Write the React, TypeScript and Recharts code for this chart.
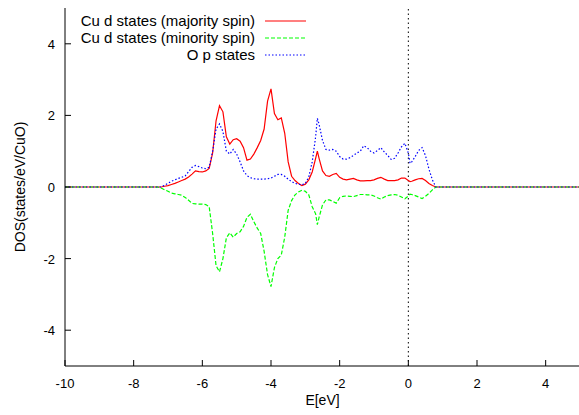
import { LineChart, Line, XAxis, YAxis, ReferenceLine, Legend, Label } from "recharts";

// Energy grid (eV) and DOS values (states/eV/CuO)
const energies = [
  -10, -7.3, -7.2, -7.1, -7.0, -6.9, -6.8, -6.7, -6.6, -6.5, -6.4, -6.3, -6.2, -6.1, -6.0, -5.9, -5.8,
  -5.7, -5.6, -5.5, -5.4, -5.3, -5.2, -5.1, -5.0, -4.9, -4.8, -4.7, -4.6, -4.5, -4.4, -4.3, -4.2, -4.1,
  -4.0, -3.9, -3.8, -3.7, -3.6, -3.5, -3.4, -3.3, -3.2, -3.1, -3.0, -2.9, -2.8, -2.7, -2.65, -2.6, -2.5,
  -2.4, -2.3, -2.2, -2.1, -2.0, -1.9, -1.8, -1.7, -1.6, -1.5, -1.4, -1.3, -1.2, -1.1, -1.0, -0.9, -0.8,
  -0.7, -0.6, -0.5, -0.4, -0.3, -0.2, -0.1, 0.0, 0.05, 0.1, 0.2, 0.3, 0.4, 0.5, 0.6, 0.7, 0.8, 5,
];

const cuMajority = [
  0, 0, 0.0, 0.02, 0.04, 0.07, 0.1, 0.14, 0.18, 0.22, 0.28, 0.36, 0.45, 0.43, 0.42, 0.45, 0.52,
  0.95, 1.85, 2.27, 2.1, 1.4, 1.2, 1.32, 1.35, 1.28, 1.1, 0.75, 0.78, 0.92, 1.1, 1.3, 1.62, 2.4,
  2.74, 2.05, 1.88, 1.93, 1.5, 0.7, 0.3, 0.18, 0.1, 0.04, 0.08, 0.2, 0.42, 0.8, 1.0, 0.8, 0.45,
  0.32, 0.3, 0.35, 0.38, 0.27, 0.22, 0.2, 0.22, 0.24, 0.2, 0.17, 0.17, 0.18, 0.18, 0.2, 0.24, 0.27,
  0.22, 0.18, 0.18, 0.18, 0.2, 0.25, 0.25, 0.18, 0.15, 0.16, 0.2, 0.23, 0.24, 0.18, 0.1, 0.04, 0, 0,
];

const cuMinority = [
  0, 0, -0.03, -0.08, -0.12, -0.17, -0.19, -0.21, -0.23, -0.29, -0.37, -0.46, -0.47, -0.48, -0.48, -0.49, -0.55,
  -1.3, -2.2, -2.37, -2.0, -1.42, -1.28, -1.4, -1.3, -1.25, -1.1, -0.85, -0.76, -0.97, -1.15, -1.3, -1.8, -2.45,
  -2.78, -2.25, -2.0, -1.9, -1.4, -0.65, -0.38, -0.22, -0.14, -0.09, -0.12, -0.22, -0.55, -0.75, -1.05, -0.85, -0.5,
  -0.36, -0.36, -0.4, -0.45, -0.3, -0.26, -0.25, -0.26, -0.27, -0.24, -0.21, -0.21, -0.22, -0.22, -0.25, -0.3, -0.34,
  -0.28, -0.24, -0.22, -0.21, -0.23, -0.28, -0.33, -0.25, -0.2, -0.21, -0.24, -0.28, -0.32, -0.26, -0.18, -0.08, 0, 0,
];

const oxygenP = [
  0, 0, 0.0, 0.05, 0.1, 0.16, 0.2, 0.24, 0.27, 0.31, 0.43, 0.55, 0.6, 0.57, 0.53, 0.51, 0.55,
  1.0, 1.62, 1.76, 1.55, 1.0, 0.92, 1.05, 0.92, 0.7, 0.45, 0.32, 0.26, 0.23, 0.22, 0.22, 0.22, 0.23,
  0.25, 0.3, 0.35, 0.35, 0.3, 0.22, 0.15, 0.1, 0.08, 0.06, 0.1, 0.28, 0.7, 1.4, 1.92, 1.75, 1.3,
  1.05, 1.03, 1.05, 1.0, 0.85, 0.78, 0.78, 0.82, 0.88, 0.95, 1.0, 1.15, 1.1, 1.0, 0.95, 1.02, 1.1,
  0.98, 0.88, 0.77, 0.8, 0.95, 1.12, 1.22, 0.95, 0.66, 0.7, 0.85, 1.02, 1.1, 0.88, 0.5, 0.2, 0, 0,
];

const xTicks = [-10, -8, -6, -4, -2, 0, 2, 4];
const yTicks = [-4, -2, 0, 2, 4];

const series = [
  { key: "maj", name: "Cu d states (majority spin)", color: "#ff0000", dash: undefined },
  { key: "min", name: "Cu d states (minority spin)", color: "#00ff00", dash: "4 2" },
  { key: "op", name: "O p states", color: "#0000ff", dash: "1.5 2" },
];

const data = energies.map((e, i) => ({
  e,
  maj: cuMajority[i],
  min: cuMinority[i],
  op: oxygenP[i],
}));

const FONT = "'Liberation Sans', Arial, sans-serif";
const TICK = 6;

function BottomTick({ x, y, payload }: any) {
  return (
    <g>
      <line x1={x} y1={y} x2={x} y2={y - TICK} stroke="#000" />
      <text x={x} y={y + 22} textAnchor="middle" fontSize={13} fontFamily={FONT} fill="#000">
        {payload.value}
      </text>
    </g>
  );
}

function TopTick({ x, y }: any) {
  return <line x1={x} y1={y} x2={x} y2={y + TICK} stroke="#000" />;
}

function LeftTick({ x, y, payload }: any) {
  return (
    <g>
      <line x1={x} y1={y} x2={x + TICK} y2={y} stroke="#000" />
      <text x={x - 10} y={y + 5} textAnchor="end" fontSize={13} fontFamily={FONT} fill="#000">
        {payload.value}
      </text>
    </g>
  );
}

function RightTick({ x, y }: any) {
  return <line x1={x} y1={y} x2={x - TICK} y2={y} stroke="#000" />;
}

function KeyBox() {
  return (
    <div style={{ fontFamily: FONT, fontSize: 15, color: "#000" }}>
      {series.map((s) => (
        <div key={s.key} style={{ display: "flex", alignItems: "center", justifyContent: "flex-end", height: 17 }}>
          <span style={{ whiteSpace: "nowrap" }}>{s.name}</span>
          <svg width={51} height={10}>
            <line x1={10} y1={5} x2={51} y2={5} stroke={s.color} strokeWidth={1.2} strokeDasharray={s.dash} />
          </svg>
        </div>
      ))}
    </div>
  );
}

export default function App() {
  return (
    <div style={{ position: "absolute", left: 0, top: 0, width: 579, height: 415, overflow: "hidden", background: "#fff" }}>
      <LineChart width={582} height={415} data={data} margin={{ top: 8, right: 2, left: 0, bottom: 0 }}>
        <XAxis
          dataKey="e"
          type="number"
          domain={[-10, 5]}
          ticks={xTicks}
          allowDataOverflow
          height={49}
          tickSize={0}
          tickMargin={0}
          tick={<BottomTick />}
          axisLine={{ stroke: "#000" }}
        >
          <Label
            content={({ viewBox }: any) => (
              <text
                x={viewBox.x + viewBox.width / 2}
                y={viewBox.y + 39}
                textAnchor="middle"
                fontSize={14}
                fontFamily={FONT}
              >
                E[eV]
              </text>
            )}
          />
        </XAxis>
        <XAxis
          xAxisId="top"
          orientation="top"
          type="number"
          dataKey="e"
          domain={[-10, 5]}
          ticks={xTicks}
          allowDataOverflow
          height={0}
          tickSize={0}
          tickMargin={0}
          tick={<TopTick />}
          axisLine={{ stroke: "#000" }}
        />
        <YAxis
          type="number"
          domain={[-5, 5]}
          ticks={yTicks}
          allowDataOverflow
          width={65}
          tickSize={0}
          tickMargin={0}
          tick={<LeftTick />}
          axisLine={{ stroke: "#000" }}
        >
          <Label
            content={({ viewBox }: any) => {
              const cx = 20;
              const cy = viewBox.y + viewBox.height / 2;
              return (
                <text
                  x={cx}
                  y={cy}
                  transform={`rotate(-90 ${cx} ${cy})`}
                  textAnchor="middle"
                  dominantBaseline="central"
                  fontSize={14}
                  fontFamily={FONT}
                >
                  DOS(states/eV/CuO)
                </text>
              );
            }}
          />
        </YAxis>
        <YAxis
          yAxisId="right"
          orientation="right"
          type="number"
          domain={[-5, 5]}
          ticks={yTicks}
          allowDataOverflow
          width={0}
          tickSize={0}
          tickMargin={0}
          tick={<RightTick />}
          axisLine={{ stroke: "#000" }}
        />
        <ReferenceLine x={0} stroke="#000" strokeDasharray="1.5 3" />
        {series.map((s) => (
          <Line
            key={s.key}
            type="linear"
            dataKey={s.key}
            name={s.name}
            stroke={s.color}
            strokeWidth={1.2}
            strokeDasharray={s.dash}
            dot={false}
            activeDot={false}
            isAnimationActive={false}
          />
        ))}
        <Legend
          layout="horizontal"
          verticalAlign="middle"
          align="center"
          content={<KeyBox />}
          wrapperStyle={{ position: "absolute", top: 12, left: "auto", right: 276, width: "auto" }}
        />
      </LineChart>
    </div>
  );
}
